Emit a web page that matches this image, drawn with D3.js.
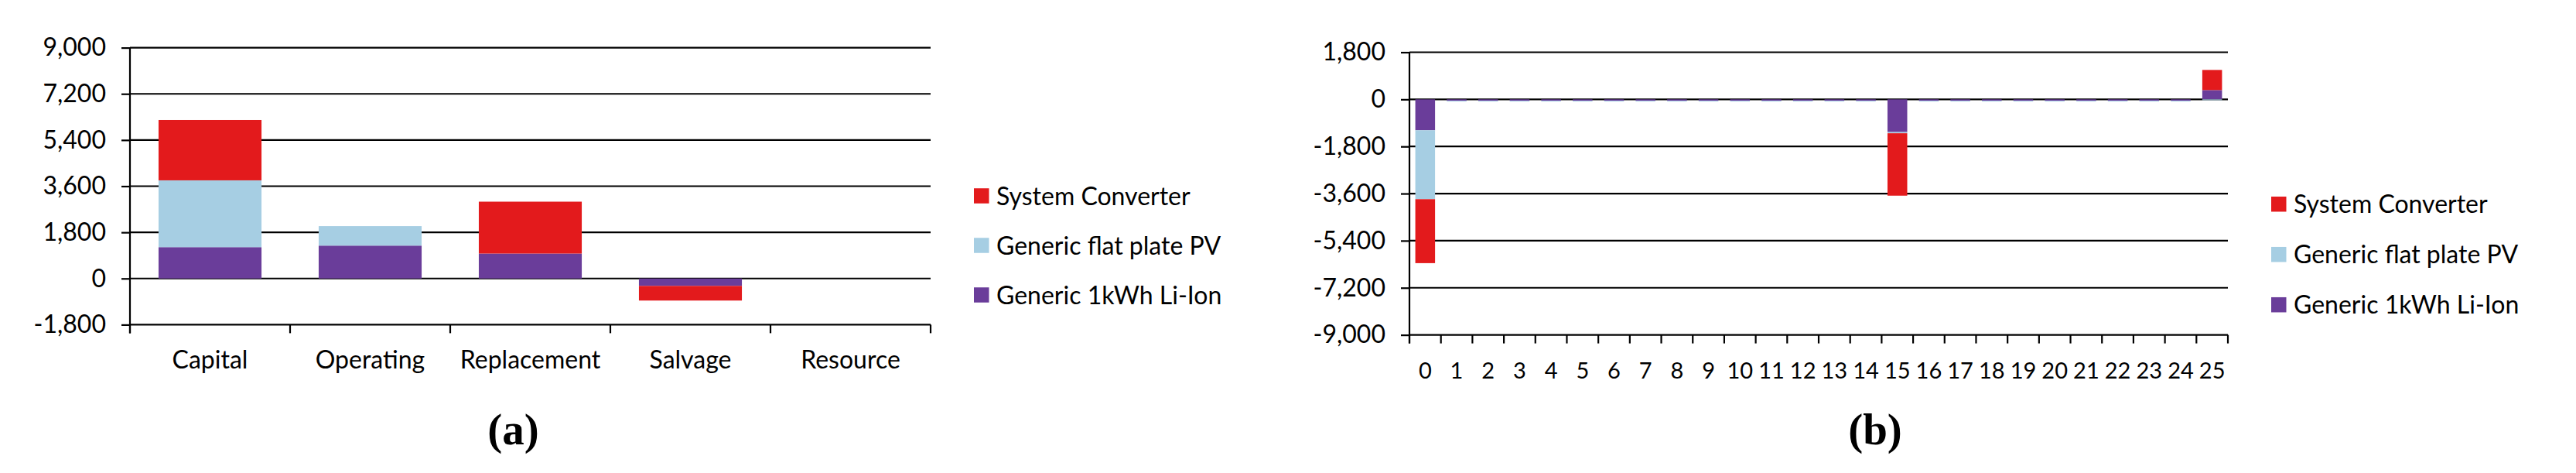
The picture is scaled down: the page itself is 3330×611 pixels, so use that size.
<!DOCTYPE html>
<html>
<head>
<meta charset="utf-8">
<script src="https://cdn.jsdelivr.net/npm/d3@7"></script>
<style>
  html, body { margin: 0; padding: 0; background: #fff; }
  svg { display: block; background: #fff; }
  text { font-family: Lato, 'Noto Sans', sans-serif; fill: #000; }
  .caption { font-family: 'Liberation Serif', 'DejaVu Serif', serif; font-weight: bold; }
</style>
</head>
<body>
<svg id="chart" width="3330" height="611"></svg>
<script>
// series, bottom of the stack first
const seriesNames = ['Generic 1kWh Li-Ion', 'Generic flat plate PV', 'System Converter']
const seriesColors = ['#6a3d9a', '#a6cee3', '#e31a1c']
const legendNames = ['System Converter', 'Generic flat plate PV', 'Generic 1kWh Li-Ion']

// (a) cost by type
const costTypes = ['Capital', 'Operating', 'Replacement', 'Salvage', 'Resource']
const typeLiIon = [1223, 1283, 974, -288, 0]
const typePV = [2605, 760, 0, 0, 0]
const typeConverter = [2353, 0, 2022, -571, 0]
const typeTicks = [-1800, 0, 1800, 3600, 5400, 7200, 9000]

// (b) cash flow by year
const years = ['0', '1', '2', '3', '4', '5', '6', '7', '8', '9', '10', '11', '12',
  '13', '14', '15', '16', '17', '18', '19', '20', '21', '22', '23', '24', '25']
const yearLiIon = [-1180, -50, -50, -50, -50, -50, -50, -50, -50, -50, -50, -50, -50,
  -50, -50, -1250, -50, -50, -50, -50, -50, -50, -50, -50, -50, 355]
const yearPV = [-2635, -32, -32, -32, -32, -32, -32, -32, -32, -32, -32, -32, -32,
  -32, -32, -45, -32, -32, -32, -32, -32, -32, -32, -32, -32, -32]
const yearConverter = [-2443, 0, 0, 0, 0, 0, 0, 0, 0, 0, 0, 0, 0,
  0, 0, -2385, 0, 0, 0, 0, 0, 0, 0, 0, 0, 769]
const yearTicks = [-9000, -7200, -5400, -3600, -1800, 0, 1800]

const fmt = d3.formatLocale({ decimal: '.', thousands: ',', grouping: [3], currency: ['$', ''], minus: '-' }).format(',')

const svg = d3.select('#chart')

drawPanel({
  cats: costTypes, values: [typeLiIon, typePV, typeConverter], ticks: typeTicks,
  x0: 168, x1: 1203, yTop: 61.6, yBottom: 419.4,
  xLabelY: 476, xFont: 32, padInner: 0.357,
  legendX: 1259, legendY: 253, legendStep: 64,
  caption: '(a)', captionX: 663.5
})

drawPanel({
  cats: years, values: [yearLiIon, yearPV, yearConverter], ticks: yearTicks,
  x0: 1822, x1: 2880, yTop: 67.5, yBottom: 432.6,
  xLabelY: 489, xFont: 29, padInner: 0.373,
  legendX: 2936, legendY: 263.7, legendStep: 65,
  caption: '(b)', captionX: 2424
})


function drawPanel (p) {
  const rows = p.cats.map((c, i) => {
    const row = { cat: c }
    seriesNames.forEach((s, k) => { row[s] = p.values[k][i] })
    return row
  })

  const x = d3.scaleBand()
    .domain(p.cats)
    .range([p.x0, p.x1])
    .paddingInner(p.padInner)
    .paddingOuter(p.padInner / 2)

  const y = d3.scaleLinear()
    .domain(d3.extent(p.ticks))
    .range([p.yBottom, p.yTop])

  const g = svg.append('g')

  // gridlines
  g.append('g')
    .selectAll('line')
    .data(p.ticks)
    .join('line')
      .attr('x1', p.x0)
      .attr('x2', p.x1)
      .attr('y1', (d) => y(d))
      .attr('y2', (d) => y(d))
      .attr('stroke', '#000')
      .attr('stroke-width', 2.2)

  // y axis with outward ticks
  g.append('g')
    .attr('transform', `translate(${p.x0},0)`)
    .call(d3.axisLeft(y)
      .tickValues(p.ticks)
      .tickFormat(fmt)
      .tickSize(11)
      .tickPadding(20))
    .call((a) => a.select('.domain').remove())
    .call((a) => a.selectAll('.tick line').attr('stroke', '#000').attr('stroke-width', 2.2))
    .call((a) => a.selectAll('text').attr('font-size', 32).attr('font-family', null))

  g.append('line')
    .attr('x1', p.x0).attr('x2', p.x0)
    .attr('y1', y(p.ticks[p.ticks.length - 1])).attr('y2', p.yBottom + 11)
    .attr('stroke', '#000')
    .attr('stroke-width', 2.2)

  // category boundary ticks
  g.append('g')
    .selectAll('line')
    .data(d3.range(p.cats.length + 1))
    .join('line')
      .attr('x1', (i) => p.x0 + i * x.step())
      .attr('x2', (i) => p.x0 + i * x.step())
      .attr('y1', p.yBottom)
      .attr('y2', p.yBottom + 11)
      .attr('stroke', '#000')
      .attr('stroke-width', 2.2)

  // category labels
  g.append('g')
    .selectAll('text')
    .data(p.cats)
    .join('text')
      .attr('x', (d) => x(d) + x.bandwidth() / 2)
      .attr('y', p.xLabelY)
      .attr('text-anchor', 'middle')
      .attr('font-size', p.xFont)
      .text((d) => d)

  // stacked bars
  const stacked = d3.stack()
    .keys(seriesNames)
    .offset(d3.stackOffsetDiverging)(rows)

  g.append('g')
    .selectAll('g')
    .data(stacked)
    .join('g')
      .attr('fill', (d, i) => seriesColors[i])
    .selectAll('rect')
    .data((d) => d.filter((v) => v[1] !== v[0]))
    .join('rect')
      .attr('x', (d) => x(d.data.cat))
      .attr('width', x.bandwidth())
      .attr('y', (d) => y(Math.max(d[0], d[1])))
      .attr('height', (d) => Math.abs(y(d[0]) - y(d[1])))

  // legend
  const legend = g.append('g')
    .selectAll('g')
    .data(legendNames)
    .join('g')
      .attr('transform', (d, i) => `translate(${p.legendX},${p.legendY + i * p.legendStep})`)

  legend.append('rect')
    .attr('x', 0)
    .attr('y', -9.75)
    .attr('width', 19.5)
    .attr('height', 19.5)
    .attr('fill', (d) => seriesColors[seriesNames.indexOf(d)])

  legend.append('text')
    .attr('x', 29)
    .attr('y', 0)
    .attr('dy', '0.36em')
    .attr('font-size', 32)
    .text((d) => d)

  svg.append('text')
    .attr('class', 'caption')
    .attr('x', p.captionX)
    .attr('y', 574)
    .attr('text-anchor', 'middle')
    .attr('font-size', 57)
    .text(p.caption)
}
</script>
</body>
</html>
